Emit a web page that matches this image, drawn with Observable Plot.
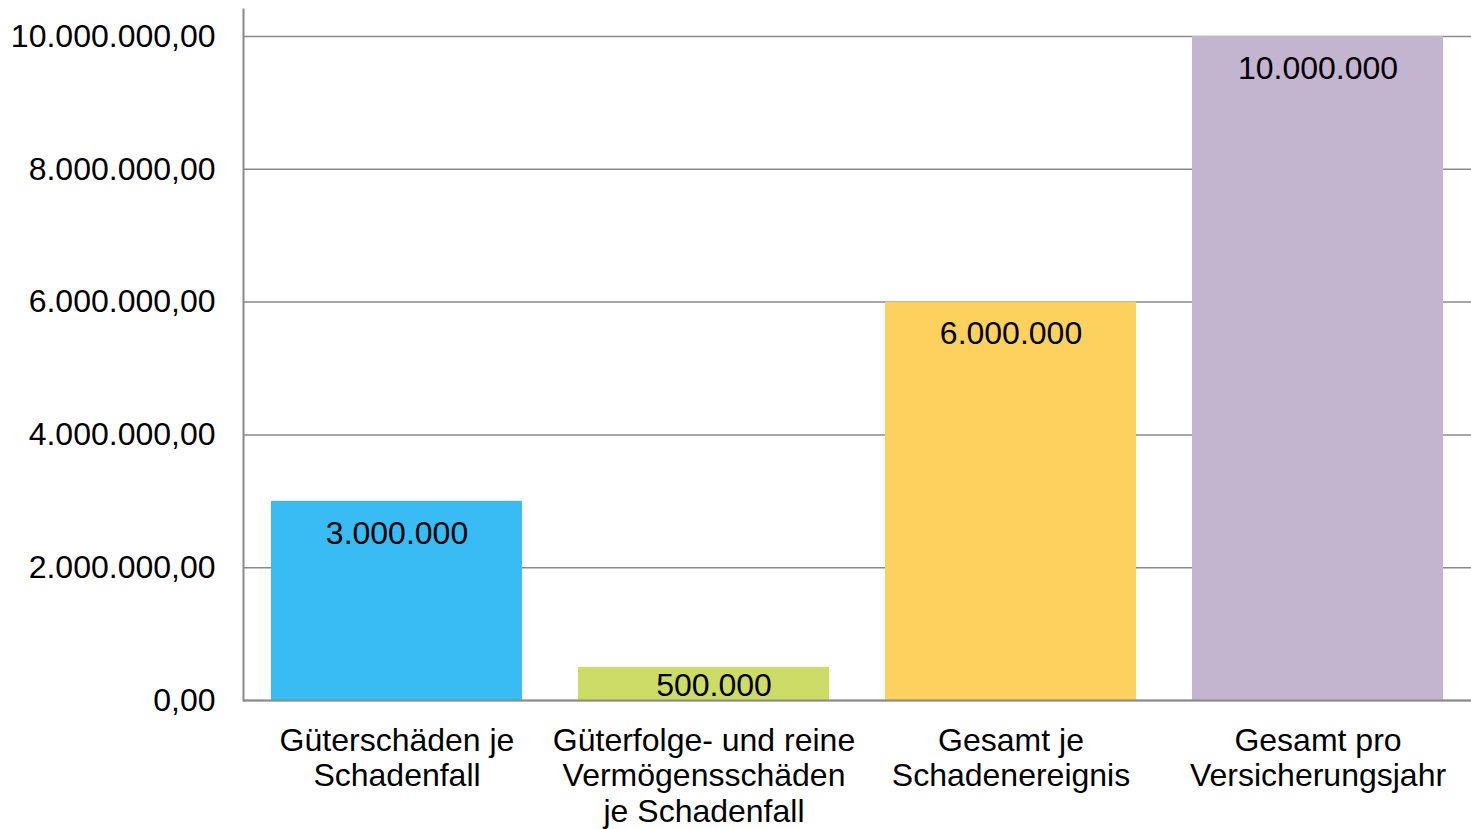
<!DOCTYPE html>
<html>
<head>
<meta charset="utf-8">
<script src="https://cdn.jsdelivr.net/npm/d3@7"></script>
<script src="https://cdn.jsdelivr.net/npm/@observablehq/plot@0.6"></script>
<style>
  html, body { margin: 0; padding: 0; background: #fff; }
  svg { display: block; }
</style>
</head>
<body>
<div id="chart"></div>
<script>
const categories = [
  "Güterschäden je Schadenfall",
  "Güterfolge- und reine Vermögensschäden je Schadenfall",
  "Gesamt je Schadenereignis",
  "Gesamt pro Versicherungsjahr"
];
const categoryLabels = [
  "Güterschäden je\nSchadenfall",
  "Güterfolge- und reine\nVermögensschäden\nje Schadenfall",
  "Gesamt je\nSchadenereignis",
  "Gesamt pro\nVersicherungsjahr"
];
const values = [3000000, 500000, 6000000, 10000000];
const colors = ["#39bcf4", "#cddc66", "#fdd15e", "#c3b5d0"];
const yTicks = [0, 2000000, 4000000, 6000000, 8000000, 10000000];

const de = d3.formatLocale({decimal: ",", thousands: ".", grouping: [3], currency: ["", " €"]});
const fmtAxis = de.format(",.2f");
const fmtLabel = de.format(",.0f");

const data = categories.map((c, i) => ({cat: c, label: categoryLabels[i], value: values[i], color: colors[i]}));
const labelMap = new Map(data.map(d => [d.cat, d.label]));

const tall = data.filter(d => d.value >= 1000000);
const short = data.filter(d => d.value < 1000000);

const FS = 32;

const chart = Plot.plot({
  width: 1471,
  height: 829,
  marginLeft: 243,
  marginRight: 0,
  marginTop: 9,
  marginBottom: 129,
  style: {fontFamily: "'Liberation Sans', Arial, sans-serif", fontSize: FS + "px", color: "#000", background: "#fff"},
  x: {domain: categories, paddingInner: 0.182, paddingOuter: 0.091, label: null},
  y: {domain: [0, 10407000], label: null},
  color: {type: "identity"},
  marks: [
    Plot.gridY(yTicks, {stroke: "#8a8a8a", strokeOpacity: 1, strokeWidth: 1.5}),
    Plot.barY(data, {x: "cat", y: "value", fill: "color"}),
    Plot.frame({anchor: "left", stroke: "#8a8a8a", strokeWidth: 2}),
    Plot.ruleY([0], {stroke: "#8a8a8a", strokeWidth: 2}),
    Plot.axisY(yTicks, {tickSize: 0, tickPadding: 28, tickFormat: fmtAxis, fill: "#000", fontSize: FS}),
    Plot.axisX({tickSize: 0, tickPadding: 25, tickFormat: d => labelMap.get(d), lineHeight: 1.11, fill: "#000", fontSize: FS}),
    Plot.text(tall, {x: "cat", y: "value", text: d => fmtLabel(d.value), dy: 32, fill: "#000", fontSize: FS}),
    Plot.text(short, {x: "cat", y: 0, text: d => fmtLabel(d.value), dy: -15, dx: 10, fill: "#000", fontSize: FS})
  ]
});
document.getElementById("chart").appendChild(chart);
</script>
</body>
</html>
